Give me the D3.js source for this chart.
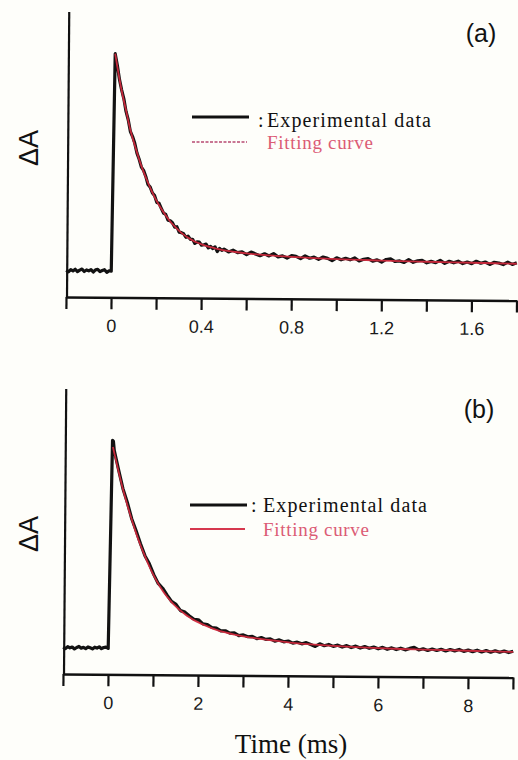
<!DOCTYPE html>
<html>
<head>
<meta charset="utf-8">
<script src="https://d3js.org/d3.v7.min.js"></script>
<style>
body{margin:0;background:#fefefa;}
svg{display:block;}
</style>
</head>
<body>
<svg id="chart" width="518" height="760"></svg>
<script>
// (a) time axis, ms
var ticksA=[-0.2,0,0.2,0.4,0.6,0.8,1.0,1.2,1.4,1.6,1.8];
var labelsA=[0,0.4,0.8,1.2,1.6];
// (a) experimental trace [t, dA]
var expA=[
[-0.2,0.003],[-0.19,-0.004],[-0.18,0.006],[-0.17,0.000],[-0.16,0.008],[-0.15,-0.003],[-0.14,0.004],
[-0.13,0.009],[-0.12,-0.002],[-0.11,0.005],[-0.10,0.001],[-0.09,0.007],[-0.08,-0.004],[-0.07,0.006],
[-0.06,0.008],[-0.05,-0.002],[-0.04,0.003],[-0.03,0.007],[-0.02,-0.005],[-0.01,0.002],[0.0,0.0],
[0.01,1.0],[0.02,0.946],[0.03,0.881],[0.04,0.833],[0.05,0.793],[0.06,0.735],[0.07,0.697],[0.08,0.643],
[0.09,0.620],[0.10,0.589],[0.11,0.544],[0.12,0.516],[0.13,0.480],[0.14,0.465],[0.15,0.437],[0.16,0.400],
[0.17,0.388],[0.18,0.361],[0.19,0.349],[0.20,0.318],[0.21,0.314],[0.22,0.291],[0.23,0.269],[0.24,0.263],
[0.25,0.237],[0.26,0.234],[0.27,0.225],[0.28,0.205],[0.29,0.207],[0.30,0.182],[0.31,0.180],[0.32,0.175],
[0.33,0.159],[0.34,0.164],[0.35,0.149],[0.36,0.150],[0.37,0.131],[0.38,0.138],[0.39,0.137],[0.40,0.123],
[0.41,0.125],[0.42,0.128],[0.43,0.111],[0.44,0.118],[0.45,0.108],[0.46,0.116],[0.47,0.094],[0.48,0.109],
[0.49,0.100],[0.50,0.106],[0.52,0.093],[0.54,0.101],[0.56,0.090],[0.58,0.094],[0.60,0.081],[0.62,0.093],
[0.64,0.085],[0.66,0.077],[0.68,0.086],[0.70,0.076],[0.72,0.087],[0.74,0.072],[0.76,0.077],[0.78,0.067],
[0.80,0.078],[0.82,0.075],[0.84,0.065],[0.86,0.078],[0.88,0.067],[0.90,0.072],[0.92,0.062],[0.94,0.073],
[0.96,0.067],[0.98,0.057],[1.00,0.070],[1.02,0.061],[1.04,0.068],[1.06,0.061],[1.08,0.070],[1.10,0.056],
[1.12,0.064],[1.14,0.067],[1.16,0.056],[1.18,0.062],[1.20,0.052],[1.22,0.064],[1.24,0.067],[1.26,0.055],
[1.28,0.058],[1.30,0.051],[1.32,0.064],[1.34,0.052],[1.36,0.059],[1.38,0.061],[1.40,0.050],[1.42,0.057],
[1.44,0.051],[1.46,0.062],[1.48,0.048],[1.50,0.058],[1.52,0.051],[1.54,0.059],[1.56,0.048],[1.58,0.055],
[1.60,0.048],[1.62,0.059],[1.64,0.050],[1.66,0.056],[1.68,0.045],[1.70,0.055],[1.72,0.052],[1.74,0.045],
[1.76,0.056],[1.78,0.046],[1.80,0.054]
];
// (a) fitting curve
var fitA=[
[0.01,1.0],[0.02,0.94],[0.04,0.83],[0.06,0.74],[0.08,0.65],[0.10,0.58],[0.12,0.515],[0.14,0.458],
[0.16,0.408],[0.18,0.363],[0.20,0.323],[0.22,0.289],[0.24,0.258],[0.26,0.231],[0.28,0.208],[0.30,0.188],
[0.32,0.171],[0.34,0.157],[0.36,0.145],[0.38,0.135],[0.40,0.127],[0.42,0.12],[0.44,0.114],[0.46,0.109],
[0.48,0.104],[0.50,0.100],[0.55,0.093],[0.60,0.087],[0.70,0.079],[0.80,0.073],[0.90,0.068],[1.0,0.064],
[1.2,0.059],[1.4,0.055],[1.6,0.052],[1.8,0.049]
];

// (b) time axis, ms
var ticksB=[-1,0,1,2,3,4,5,6,7,8,9];
var labelsB=[0,2,4,6,8];
var expB=[
[-1.0,0.004],[-0.95,-0.003],[-0.9,0.007],[-0.85,0.001],[-0.8,0.005],[-0.75,-0.004],[-0.7,0.003],
[-0.65,0.008],[-0.6,0.0],[-0.55,0.004],[-0.5,-0.002],[-0.45,0.006],[-0.4,0.002],[-0.35,-0.003],
[-0.3,0.005],[-0.25,0.001],[-0.2,0.007],[-0.15,-0.002],[-0.1,0.004],[-0.05,0.006],[0.0,0.0],
[0.06,1.0],[0.08,0.995],
[0.1,0.952],[0.2,0.858],[0.3,0.768],[0.4,0.702],[0.5,0.624],[0.6,0.566],[0.7,0.504],[0.8,0.447],
[0.9,0.408],[1.0,0.356],[1.1,0.314],[1.2,0.291],[1.3,0.258],[1.4,0.228],[1.5,0.214],[1.6,0.184],
[1.7,0.177],[1.8,0.159],[1.9,0.143],[2.0,0.141],[2.1,0.121],[2.2,0.118],[2.3,0.104],[2.4,0.101],
[2.5,0.088],[2.6,0.089],[2.7,0.078],[2.8,0.079],[2.9,0.066],[3.0,0.070],[3.1,0.061],[3.2,0.063],
[3.3,0.052],[3.4,0.058],[3.5,0.049],[3.6,0.052],[3.7,0.041],[3.8,0.047],[3.9,0.038],[4.0,0.042],
[4.1,0.032],[4.2,0.037],[4.3,0.029],[4.4,0.035],[4.5,0.026],[4.6,0.017],[4.7,0.030],[4.8,0.021],
[4.9,0.027],[5.0,0.018],[5.1,0.024],[5.2,0.015],[5.3,0.022],[5.4,0.013],[5.5,0.020],[5.6,0.011],
[5.7,0.018],[5.8,0.010],[5.9,0.016],[6.0,0.008],[6.1,0.015],[6.2,0.006],[6.3,0.013],[6.4,0.005],
[6.5,0.012],[6.6,0.004],[6.7,0.011],[6.8,0.016],[6.9,0.004],[7.0,0.010],[7.1,0.002],[7.2,0.009],
[7.3,0.002],[7.4,0.008],[7.5,0.000],[7.6,0.007],[7.7,0.001],[7.8,0.008],[7.9,-0.001],[8.0,0.005],
[8.1,-0.002],[8.2,0.005],[8.3,-0.003],[8.4,0.004],[8.5,-0.004],[8.6,0.003],[8.7,-0.004],[8.8,0.002],
[8.9,-0.005],[9.0,0.001]
];
var fitB=[
[0.07,0.968],[0.1,0.94],[0.2,0.85],[0.3,0.765],[0.4,0.69],[0.5,0.62],[0.6,0.555],[0.7,0.497],
[0.8,0.445],[0.9,0.395],[1.0,0.351],[1.1,0.313],[1.2,0.279],[1.3,0.25],[1.4,0.225],[1.5,0.203],
[1.6,0.184],[1.7,0.167],[1.8,0.152],[1.9,0.139],[2.0,0.128],[2.2,0.109],[2.4,0.093],[2.6,0.081],
[2.8,0.071],[3.0,0.063],[3.25,0.055],[3.5,0.048],[3.75,0.042],[4.0,0.036],[4.5,0.027],[5.0,0.020],
[5.5,0.015],[6.0,0.011],[6.5,0.008],[7.0,0.006],[7.5,0.004],[8.0,0.002],[8.5,0.0],[9.0,-0.002]
];

var legendNames=["Experimental data","Fitting curve"];
var svg=d3.select("#chart");
var sans="Arial, 'Liberation Sans', sans-serif";
var serif="'Times New Roman', 'Liberation Serif', serif";

function drawPanel(p){
	// scanned figure is a little tilted
	var g=svg.append("g").attr("transform","rotate("+p.tilt+","+p.x0+","+p.y0+")");
	var x=d3.scaleLinear().domain(p.xDomain).range([p.x0,p.x1]);
	var y=d3.scaleLinear().domain(p.yDomain).range([p.y0,p.y1]);

	g.append("line")
		.attr("x1",p.x0+1).attr("x2",p.x0+1)
		.attr("y1",p.y0).attr("y2",p.y1)
		.attr("stroke","#111").attr("stroke-width",2.2);

	var axis=d3.axisBottom(x)
		.tickValues(p.ticks)
		.tickSize(12).tickSizeOuter(0).tickPadding(10)
		.tickFormat(function(d){ return p.labels.indexOf(d)>=0 ? String(d) : ""; });
	var ax=g.append("g").attr("transform","translate(0,"+p.y0+")").call(axis);
	ax.select(".domain").attr("stroke","#111").attr("stroke-width",2.4);
	ax.selectAll(".tick line").attr("stroke","#111").attr("stroke-width",2.2);
	ax.selectAll(".tick text").attr("fill","#1a1a1a")
		.style("font-family",sans).style("font-size","18px");

	var line=d3.line().x(function(d){return x(d[0]);}).y(function(d){return y(d[1]);});
	g.append("path").datum(p.exp)
		.attr("d",line)
		.attr("fill","none").attr("stroke","#121212")
		.attr("stroke-width",3.2).attr("stroke-linejoin","round");
	g.append("path").datum(p.fit)
		.attr("d",line.curve(d3.curveMonotoneX))
		.attr("fill","none").attr("stroke","#d42a3e")
		.attr("stroke-width",1.8).attr("opacity",0.92);

	// legend
	var lg=svg.append("g");
	lg.append("line").attr("x1",p.lx).attr("x2",p.lx+57).attr("y1",p.ly1).attr("y2",p.ly1)
		.attr("stroke","#111").attr("stroke-width",3);
	lg.append("line").attr("x1",p.lx).attr("x2",p.lx+55).attr("y1",p.ly2).attr("y2",p.ly2)
		.attr("stroke",p.redLegend).attr("stroke-width",p.redWidth)
		.attr("stroke-dasharray",p.redDash);
	lg.append("text").attr("x",p.colonX).attr("y",p.ty1).text(":")
		.style("font-family",serif).style("font-size","20px").attr("fill","#111");
	lg.append("text").attr("x",p.tx1).attr("y",p.ty1).text(legendNames[0])
		.attr("textLength",164).attr("lengthAdjust","spacing")
		.style("font-family",serif).style("font-size","20px").attr("fill","#111");
	lg.append("text").attr("x",p.tx2).attr("y",p.ty2).text(legendNames[1])
		.attr("textLength",106).attr("lengthAdjust","spacing")
		.style("font-family",serif).style("font-size","19px")
		.attr("fill","#d6405e").attr("opacity",0.85);

	svg.append("text").attr("x",p.tagX).attr("y",p.tagY).text(p.tag)
		.attr("text-anchor","middle")
		.style("font-family",sans).style("font-size","25px").attr("fill","#111");

	svg.append("text")
		.attr("transform","translate(38,"+p.labY+") rotate(-90)")
		.attr("text-anchor","middle")
		.text("\u0394A")
		.style("font-family",sans).style("font-size","27px").attr("fill","#111");
}

drawPanel({
	tilt:0.45, x0:66, x1:516.5, y0:297, y1:12,
	xDomain:[-0.2,1.8], yDomain:[-0.12,1.19],
	ticks:ticksA, labels:labelsA, exp:expA, fit:fitA,
	lx:192, ly1:117, ly2:142, redLegend:"#b84a72", redWidth:1.5, redDash:"3,1.5",
	colonX:258, tx1:267, ty1:126.5, tx2:267, ty2:149,
	tag:"(a)", tagX:481, tagY:42, labY:148
});
drawPanel({
	tilt:0.45, x0:63, x1:513, y0:674, y1:389,
	xDomain:[-1,9], yDomain:[-0.125,1.245],
	ticks:ticksB, labels:labelsB, exp:expB, fit:fitB,
	lx:190, ly1:505, ly2:529, redLegend:"#d6384e", redWidth:1.8, redDash:null,
	colonX:251, tx1:263, ty1:512, tx2:263, ty2:536,
	tag:"(b)", tagX:479, tagY:418, labY:534
});

svg.append("text").attr("x",291).attr("y",753)
	.attr("text-anchor","middle")
	.text("Time (ms)")
	.style("font-family",serif).style("font-size","27px").attr("fill","#111");
</script>
</body>
</html>
